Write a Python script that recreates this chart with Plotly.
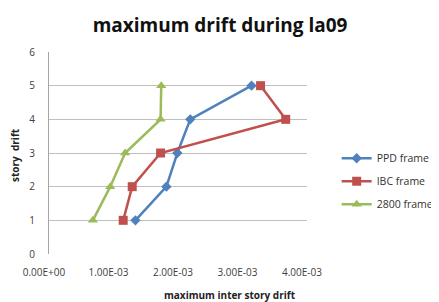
import plotly.graph_objects as go

stories = [1, 2, 3, 4, 5]
ppd = [1.34e-3, 1.82e-3, 1.99e-3, 2.19e-3, 3.14e-3]
ibc = [1.15e-3, 1.29e-3, 1.73e-3, 3.67e-3, 3.28e-3]
f2800 = [0.68e-3, 0.95e-3, 1.18e-3, 1.73e-3, 1.74e-3]
x_tickvals = [0, 1e-3, 2e-3, 3e-3, 4e-3]
x_ticktext = ["0.00E+00", "1.00E-03", "2.00E-03", "3.00E-03", "4.00E-03"]

font = "Open Sans, Liberation Sans, sans-serif"
fig = go.Figure()
series = [
    ("PPD frame", ppd, "#4F81BD", "diamond", 8),
    ("IBC frame", ibc, "#C0504D", "square", 9),
    ("2800 frame", f2800, "#9BBB59", "triangle-up", 9),
]
for name, vals, col, sym, sz in series:
    fig.add_trace(go.Scatter(x=vals, y=stories, name=name, mode="lines+markers",
                             legendgroup=name,
                             line=dict(color=col, width=2.5),
                             marker=dict(symbol=sym, size=sz, color=col)))

# page body has an 8px margin, so the figure is sized/offset to compensate
fig.update_layout(
    width=431, height=294,
    margin=dict(l=41, r=132, t=44, b=48, autoexpand=False),
    paper_bgcolor="white", plot_bgcolor="white",
    font=dict(family=font, color="#404040", size=10),
    title=dict(text="<b>maximum drift during la09</b>", x=0.492, xanchor="center",
               y=0.942, yanchor="middle", font=dict(size=19, color="#111111")),
    xaxis=dict(range=[0, 4e-3], tickvals=x_tickvals, ticktext=x_ticktext,
               showgrid=False, zeroline=False, showline=False, automargin=False,
               ticks="outside", ticklen=9, tickcolor="rgba(0,0,0,0)", ticklabelshift=-5),
    yaxis=dict(range=[0, 6], dtick=1, showgrid=True, gridcolor="#BFBFBF", gridwidth=1.2,
               zeroline=False, showline=True, linecolor="#A6A6A6", automargin=False,
               ticks="outside", ticklen=11, tickcolor="rgba(0,0,0,0)"),
    legend=dict(x=1.115, y=0.36, xanchor="left", yanchor="middle",
                font=dict(size=10.5, color="#333"), tracegroupgap=4, itemwidth=30),
    showlegend=True,
    annotations=[
        dict(text="<b>maximum inter story drift</b>", xref="paper", yref="paper",
             x=0.70, y=-0.203, xanchor="center", yanchor="middle", showarrow=False,
             font=dict(size=10, color="#222")),
        dict(text="<b>story  drift</b>", xref="paper", yref="paper",
             x=-0.132, y=0.49, xanchor="center", yanchor="middle", showarrow=False,
             textangle=-90, font=dict(size=10, color="#222")),
    ],
)
fig.write_html("out.html")
